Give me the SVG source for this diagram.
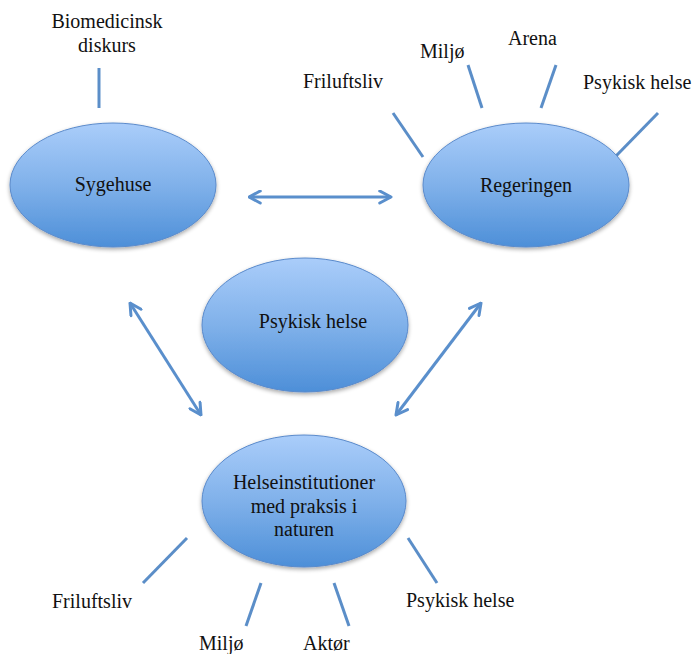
<svg xmlns="http://www.w3.org/2000/svg" width="695" height="654" viewBox="0 0 695 654">
<defs>
<linearGradient id="g" x1="0" y1="0" x2="0" y2="1">
<stop offset="0" stop-color="#AACDFA"/>
<stop offset="0.5" stop-color="#80B1EA"/>
<stop offset="1" stop-color="#4D8FD8"/>
</linearGradient>
<filter id="sh" x="-20%" y="-20%" width="140%" height="150%">
<feGaussianBlur in="SourceAlpha" stdDeviation="2"/>
<feOffset dy="2" result="b"/>
<feComponentTransfer><feFuncA type="linear" slope="0.35"/></feComponentTransfer>
<feMerge><feMergeNode/><feMergeNode in="SourceGraphic"/></feMerge>
</filter>
<marker id="ah" viewBox="0 0 10 10" refX="9" refY="5" markerWidth="5" markerHeight="5" orient="auto-start-reverse" markerUnits="strokeWidth">
<path d="M1.5,1 L9,5 L1.5,9" fill="none" stroke="#5A8FCC" stroke-width="2" stroke-linecap="round" stroke-linejoin="round"/>
</marker>
</defs>
<style>
.node ellipse{fill:url(#g);stroke:#5A8ACB;stroke-width:1;filter:url(#sh)}
text{font-family:"Liberation Serif","Times New Roman",serif;font-size:20px;fill:#111}
.c{text-anchor:middle}
.spoke{stroke:#5B8EC8;stroke-width:3;fill:none}
.arr{stroke:#5A8FCC;stroke-width:3;fill:none;marker-start:url(#ah);marker-end:url(#ah)}
</style>
<rect width="695" height="654" fill="#fff"/>
<g id="connectors">
<line class="arr" x1="249" y1="197" x2="391" y2="197"/>
<line class="arr" x1="130" y1="303" x2="201" y2="415"/>
<line class="arr" x1="481" y1="303" x2="396" y2="415"/>
<line class="spoke" x1="99" y1="68" x2="99" y2="108"/>
<line class="spoke" x1="393" y1="113" x2="423" y2="157"/>
<line class="spoke" x1="468" y1="65" x2="482" y2="108"/>
<line class="spoke" x1="556" y1="65" x2="541" y2="108"/>
<line class="spoke" x1="658" y1="113" x2="616" y2="156"/>
<line class="spoke" x1="187" y1="538" x2="143" y2="583"/>
<line class="spoke" x1="261" y1="583" x2="246" y2="626"/>
<line class="spoke" x1="334" y1="583" x2="349" y2="626"/>
<line class="spoke" x1="408" y1="538" x2="437" y2="583"/>
</g>
<g id="sygehuse" class="node">
<ellipse cx="113" cy="185" rx="103" ry="62"/>
<text class="c" x="113" y="191">Sygehuse</text>
</g>
<g id="regeringen" class="node">
<ellipse cx="526" cy="185" rx="103" ry="62"/>
<text class="c" x="526" y="192">Regeringen</text>
</g>
<g id="psykisk-helse" class="node">
<ellipse cx="305" cy="325" rx="103" ry="67"/>
<text class="c" x="313" y="328">Psykisk helse</text>
</g>
<g id="helseinstitutioner" class="node">
<ellipse cx="304" cy="501" rx="102" ry="66"/>
<text class="c" x="304" y="489">Helseinstitutioner</text>
<text class="c" x="304" y="513">med praksis i</text>
<text class="c" x="304" y="536">naturen</text>
</g>
<g id="labels">
<text class="c" x="107" y="28">Biomedicinsk</text>
<text class="c" x="107" y="52">diskurs</text>
<text x="303" y="88">Friluftsliv</text>
<text x="420" y="58">Miljø</text>
<text x="508" y="45">Arena</text>
<text x="583" y="89">Psykisk helse</text>
<text x="52" y="608">Friluftsliv</text>
<text x="199" y="650">Miljø</text>
<text x="303" y="650">Aktør</text>
<text x="406" y="607">Psykisk helse</text>
</g>
</svg>
